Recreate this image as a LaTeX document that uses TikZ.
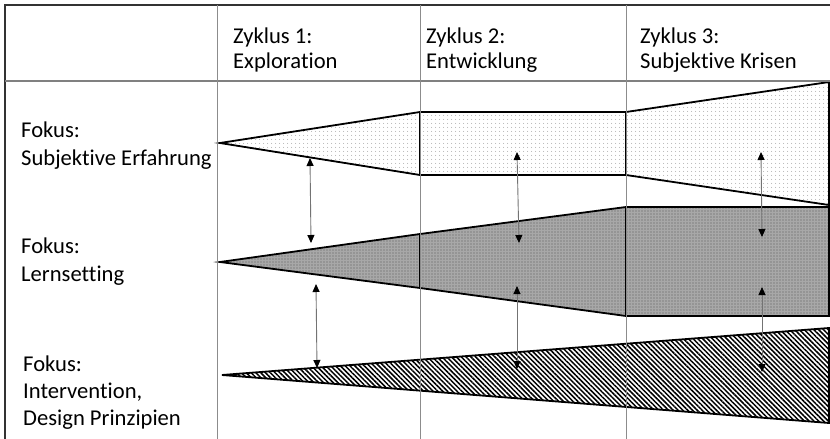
\documentclass[tikz,border=0pt]{standalone}
\usepackage{fontspec}
\setmainfont{Carlito}[Ligatures=NoCommon]
\usetikzlibrary{patterns.meta,arrows.meta}
\begin{document}
\begin{tikzpicture}[x=1pt,y=-1pt,
  lbl/.style={anchor=base west, inner sep=0pt, align=left, font=\fontsize{22.6}{28}\selectfont},
  lbltight/.style={anchor=base west, inner sep=0pt, align=left, font=\fontsize{22.6}{27}\selectfont},
  hdr/.style={anchor=base west, inner sep=0pt, align=left, font=\fontsize{22.6}{25}\selectfont},
  gridline/.style={draw=black!45, line width=0.9pt},
  headline/.style={draw=black!50, line width=1.4pt},
  frameline/.style={draw=black!80, line width=1.6pt},
  outline/.style={draw=black, line width=1.8pt, line join=miter},
  lightdots/.style={preaction={fill=white}, pattern={Dots[distance=4pt,radius=0.5pt]}, pattern color=black!45},
  darkdots/.style={preaction={fill=black!34}, pattern={Dots[distance=3pt,radius=0.7pt]}, pattern color=black!65},
  hatch/.style={preaction={fill=white}, pattern={Lines[angle=-45,distance=3.4pt,line width=1.5pt]}, pattern color=black},
  dbl/.style={draw=black!55, line width=0.9pt, {Triangle[length=8pt,width=7pt,color=black]}-{Triangle[length=8pt,width=7pt,color=black]}},
]
\useasboundingbox (0,0) rectangle (830,439);
\clip (0,0) rectangle (830,439);

% --- shape 1: Subjektive Erfahrung
\coordinate (a0) at (220,143);
\coordinate (a1t) at (420,112); \coordinate (a1b) at (420,175);
\coordinate (a2t) at (626,112); \coordinate (a2b) at (626,175);
\coordinate (a3t) at (829,82);  \coordinate (a3b) at (829,205);
\path[lightdots] (a0) -- (a1t) -- (a1b) -- cycle;
\path[lightdots] (a1t) -- (a2t) -- (a2b) -- (a1b) -- cycle;
\path[lightdots] (a2t) -- (a3t) -- (a3b) -- (a2b) -- cycle;
\draw[outline] (a0) -- (a1t) -- (a1b) -- cycle;
\draw[outline] (a1t) -- (a2t) -- (a2b) -- (a1b) -- cycle;
\draw[outline] (a2t) -- (a3t) -- (a3b) -- (a2b) -- cycle;

% --- shape 2: Lernsetting
\coordinate (b0) at (220,262);
\coordinate (b1t) at (420,234); \coordinate (b1b) at (420,288);
\coordinate (b2t) at (626,207); \coordinate (b2b) at (626,316);
\coordinate (b3t) at (829,207); \coordinate (b3b) at (829,316);
\path[darkdots] (b0) -- (b1t) -- (b1b) -- cycle;
\path[darkdots] (b1t) -- (b2t) -- (b2b) -- (b1b) -- cycle;
\path[darkdots] (b2t) -- (b3t) -- (b3b) -- (b2b) -- cycle;
\draw[outline] (b0) -- (b1t) -- (b1b) -- cycle;
\draw[outline] (b1t) -- (b2t) -- (b2b) -- (b1b) -- cycle;
\draw[outline] (b2t) -- (b3t) -- (b3b) -- (b2b) -- cycle;

% --- shape 3: Intervention
\coordinate (c0) at (222,375);
\coordinate (c1t) at (829,328); \coordinate (c1b) at (829,423);
\path[hatch] (c0) -- (c1t) -- (c1b) -- cycle;
\draw[outline] (c0) -- (c1t) -- (c1b) -- cycle;

% --- table grid
\draw[frameline] (5,445) -- (5,5) -- (840,5);
\draw[headline] (5,81) -- (840,81);
\draw[gridline] (217,5) -- (217,445);
\draw[gridline] (420,5) -- (420,445);
\draw[gridline] (626,5) -- (626,445);

% --- header (anchor = baseline of last line)
\node[hdr] (z1) at (233,68) {Zyklus 1:\\Exploration};
\node[hdr] (z2) at (426,68) {Zyklus 2:\\Entwicklung};
\node[hdr] (z3) at (640,68) {Zyklus 3:\\Subjektive Krisen};

% --- row labels (anchor = baseline of last line)
\node[lbl] (f1) at (21,165) {Fokus:\\Subjektive Erfahrung};
\node[lbl] (f2) at (21,281) {Fokus:\\Lernsetting};
\node[lbltight] (f3) at (23,425) {Fokus:\\Intervention,\\Design Prinzipien};

% --- arrows
\coordinate (pA1) at (310,158); \coordinate (pA2) at (311,243);
\coordinate (pB1) at (316,284); \coordinate (pB2) at (317,368);
\coordinate (pC1) at (517,152); \coordinate (pC2) at (519,243);
\coordinate (pD1) at (517,286); \coordinate (pD2) at (517,369);
\coordinate (pE1) at (761,152); \coordinate (pE2) at (762,237);
\coordinate (pF1) at (762,287); \coordinate (pF2) at (762,372);
\draw[dbl] (pA1) -- (pA2);
\draw[dbl] (pB1) -- (pB2);
\draw[dbl] (pC1) -- (pC2);
\draw[dbl] (pD1) -- (pD2);
\draw[dbl] (pE1) -- (pE2);
\draw[dbl] (pF1) -- (pF2);
\end{tikzpicture}
\end{document}
